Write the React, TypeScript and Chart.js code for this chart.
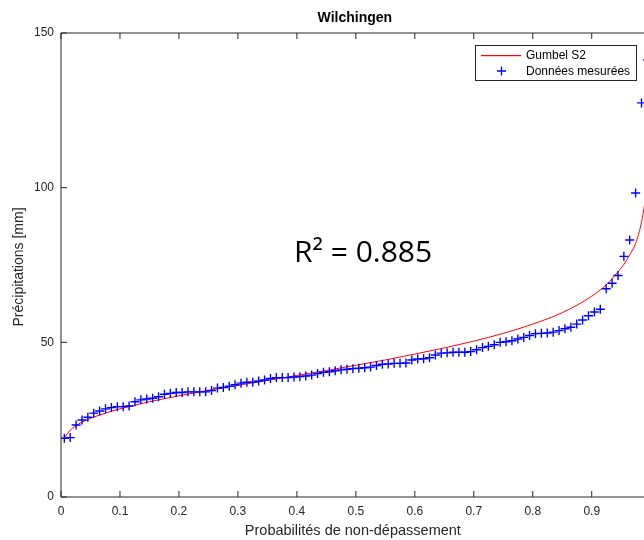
import React, { useEffect, useRef } from 'react';
import { Chart, registerables } from 'chart.js';

Chart.register(...registerables);

const TITLE = 'Wilchingen';
const X_LABEL = 'Probabilités de non-dépassement';
const Y_LABEL = 'Précipitations [mm]';
const FIT_LABEL = 'Gumbel S2';
const DATA_LABEL = 'Données mesurées';
const R2_TEXT = 'R² = 0.885';

const X_TICKS = [0, 0.1, 0.2, 0.3, 0.4, 0.5, 0.6, 0.7, 0.8, 0.9, 1];
const Y_TICKS = [0, 50, 100, 150];

// plotting positions (non-exceedance probability) of the measured values
const probs = [
  0.0056, 0.0156, 0.0256, 0.0356, 0.0455, 0.0555, 0.0655, 0.0755, 0.0855, 0.0955,
  0.1055, 0.1155, 0.1255, 0.1354, 0.1454, 0.1554, 0.1654, 0.1754, 0.1854, 0.1954,
  0.2054, 0.2153, 0.2253, 0.2353, 0.2453, 0.2553, 0.2653, 0.2753, 0.2853, 0.2952,
  0.3052, 0.3152, 0.3252, 0.3352, 0.3452, 0.3552, 0.3652, 0.3752, 0.3851, 0.3951,
  0.4051, 0.4151, 0.4251, 0.4351, 0.4451, 0.4551, 0.4650, 0.4750, 0.4850, 0.4950,
  0.5050, 0.5150, 0.5250, 0.5350, 0.5449, 0.5549, 0.5649, 0.5749, 0.5849, 0.5949,
  0.6049, 0.6149, 0.6249, 0.6348, 0.6448, 0.6548, 0.6648, 0.6748, 0.6848, 0.6948,
  0.7048, 0.7147, 0.7247, 0.7347, 0.7447, 0.7547, 0.7647, 0.7747, 0.7847, 0.7946,
  0.8046, 0.8146, 0.8246, 0.8346, 0.8446, 0.8546, 0.8646, 0.8746, 0.8845, 0.8945,
  0.9045, 0.9145, 0.9245, 0.9345, 0.9445, 0.9545, 0.9644, 0.9744, 0.9844, 0.9944,
];

// measured precipitation [mm]
const measured = [
  19.0, 19.2, 23.3, 24.9, 25.8, 27.1, 27.8, 28.5, 28.9, 29.2,
  29.2, 29.4, 30.8, 31.4, 31.7, 31.9, 32.4, 33.2, 33.5, 33.8,
  33.8, 34.0, 34.0, 34.0, 34.0, 34.4, 35.2, 35.4, 35.8, 36.3,
  36.8, 37.1, 37.1, 37.5, 37.8, 38.3, 38.6, 38.6, 38.6, 38.8,
  38.9, 39.1, 39.4, 39.9, 40.3, 40.5, 40.8, 41.1, 41.3, 41.5,
  41.6, 41.8, 42.0, 42.5, 42.9, 43.0, 43.2, 43.2, 43.3, 44.3,
  44.6, 44.7, 45.0, 45.9, 46.5, 46.6, 46.8, 46.8, 46.8, 47.0,
  47.6, 48.3, 48.7, 49.2, 50.0, 50.2, 50.5, 51.1, 51.6, 52.2,
  52.8, 52.9, 53.0, 53.3, 53.8, 54.4, 54.9, 55.9, 57.2, 58.6,
  59.8, 60.7, 67.3, 69.1, 71.6, 77.8, 83.1, 98.3, 127.4, 141.3,
];

// fitted Gumbel curve
const fitProbs = [
  0.0056, 0.0156, 0.03, 0.05, 0.075, 0.1, 0.15, 0.2, 0.25, 0.3, 0.35, 0.4, 0.45, 0.5,
  0.55, 0.6, 0.65, 0.7, 0.75, 0.8, 0.85, 0.9, 0.9245, 0.9445, 0.9545, 0.9644, 0.9744,
  0.9844, 0.9944,
];
const fitValues = [
  19.0, 21.6, 23.6, 25.4, 27.1, 28.5, 30.8, 32.7, 34.5, 36.1, 37.7, 39.3, 40.9, 42.6,
  44.3, 46.2, 48.2, 50.4, 52.9, 55.9, 59.6, 64.9, 68.6, 72.8, 75.2, 78.3, 82.0,
  88.8, 100.5,
];

const CANVAS_W = 700;
const CANVAS_H = 540;
const AXIS_COLOR = '#262626';
const SANS = '"Liberation Sans", Arial, Helvetica, sans-serif';

const decorPlugin = {
  id: 'decor',
  afterDraw(chart: any) {
    const ctx = chart.ctx as CanvasRenderingContext2D;
    const { left, right, top, bottom } = chart.chartArea;
    const xs = chart.scales.x;
    const ys = chart.scales.y;
    ctx.save();
    // box
    ctx.strokeStyle = AXIS_COLOR;
    ctx.lineWidth = 1;
    ctx.beginPath();
    ctx.rect(left, top, right - left, bottom - top);
    ctx.stroke();
    // ticks
    const tl = 6;
    ctx.beginPath();
    X_TICKS.forEach((v) => {
      const px = xs.getPixelForValue(v);
      ctx.moveTo(px, bottom);
      ctx.lineTo(px, bottom - tl);
      ctx.moveTo(px, top);
      ctx.lineTo(px, top + tl);
    });
    Y_TICKS.forEach((v) => {
      const py = ys.getPixelForValue(v);
      ctx.moveTo(left, py);
      ctx.lineTo(left + tl, py);
      ctx.moveTo(right, py);
      ctx.lineTo(right - tl, py);
    });
    ctx.stroke();

    // title
    const cx = (left + right) / 2;
    ctx.fillStyle = '#000';
    ctx.font = `bold 14px ${SANS}`;
    ctx.textAlign = 'center';
    ctx.textBaseline = 'middle';
    ctx.fillText(TITLE, cx - 1, 18);

    // axis labels
    ctx.fillStyle = AXIS_COLOR;
    ctx.font = `14.5px ${SANS}`;
    ctx.fillText(X_LABEL, cx - 3, 531);
    ctx.save();
    ctx.font = `14px ${SANS}`;
    ctx.translate(19, (top + bottom) / 2 + 2);
    ctx.rotate(-Math.PI / 2);
    ctx.fillText(Y_LABEL, 0, 0);
    ctx.restore();

    // R² annotation
    ctx.fillStyle = '#000';
    ctx.font = `30px "Open Sans", sans-serif`;
    ctx.textAlign = 'left';
    ctx.textBaseline = 'alphabetic';
    ctx.fillText(R2_TEXT, 294, 262);

    // legend
    const lx = 475.5, ly = 45.5, lw = 161, lh = 35;
    ctx.fillStyle = '#fff';
    ctx.fillRect(lx, ly, lw, lh);
    ctx.strokeStyle = AXIS_COLOR;
    ctx.lineWidth = 1;
    ctx.strokeRect(lx, ly, lw, lh);
    ctx.fillStyle = '#ff0000';
    ctx.fillRect(481, 55, 40, 1.2);
    ctx.strokeStyle = '#0000ff';
    ctx.lineWidth = 1.3;
    ctx.beginPath();
    ctx.moveTo(497, 71);
    ctx.lineTo(506, 71);
    ctx.moveTo(501.5, 66.5);
    ctx.lineTo(501.5, 75.5);
    ctx.stroke();
    ctx.fillStyle = '#000';
    ctx.font = `12px ${SANS}`;
    ctx.textBaseline = 'middle';
    ctx.fillText(FIT_LABEL, 526, 55.5);
    ctx.fillText(DATA_LABEL, 526, 71.5);
    ctx.restore();
  },
};

export default function App() {
  const ref = useRef<HTMLCanvasElement>(null);
  useEffect(() => {
    const canvas = ref.current!;
    const chart = new Chart(canvas, {
      type: 'scatter',
      data: {
        datasets: [
          {
            label: FIT_LABEL,
            type: 'line',
            data: fitProbs.map((x, i) => ({ x, y: fitValues[i] })),
            borderColor: '#ff0000',
            borderWidth: 1,
            pointRadius: 0,
            fill: false,
            cubicInterpolationMode: 'monotone',
            order: 1,
          } as any,
          {
            label: DATA_LABEL,
            data: probs.map((x, i) => ({ x, y: measured[i] })),
            pointStyle: 'cross',
            pointRadius: 4.5,
            borderColor: '#0000ff',
            backgroundColor: '#0000ff',
            pointBorderWidth: 1.4,
            showLine: false,
            order: 0,
          } as any,
        ],
      },
      options: {
        animation: false,
        responsive: false,
        devicePixelRatio: 1,
        layout: { padding: { top: 33, right: CANVAS_W - 650.7, left: 0, bottom: 0 } },
        plugins: {
          legend: { display: false },
          title: { display: false },
          tooltip: { enabled: false },
        },
        scales: {
          x: {
            type: 'linear',
            min: 0,
            max: 1,
            afterBuildTicks: (s: any) => {
              s.ticks = X_TICKS.map((v) => ({ value: v }));
            },
            afterFit: (s: any) => {
              s.height = 43;
            },
            ticks: {
              callback: (v: any) => String(Math.round(Number(v) * 10) / 10),
              font: { family: SANS, size: 12 },
              color: AXIS_COLOR,
              padding: 7,
              maxRotation: 0,
              autoSkip: false,
            },
            grid: { display: false, drawTicks: false },
            border: { display: false },
          },
          y: {
            type: 'linear',
            min: 0,
            max: 150,
            afterBuildTicks: (s: any) => {
              s.ticks = Y_TICKS.map((v) => ({ value: v }));
            },
            afterFit: (s: any) => {
              s.width = 61;
            },
            ticks: {
              font: { family: SANS, size: 12 },
              color: AXIS_COLOR,
              padding: 7,
              autoSkip: false,
            },
            grid: { display: false, drawTicks: false },
            border: { display: false },
          },
        },
      } as any,
      plugins: [decorPlugin],
    });
    return () => chart.destroy();
  }, []);

  return (
    <div
      style={{
        position: 'fixed',
        left: 0,
        top: 0,
        width: 644,
        height: 540,
        overflow: 'hidden',
        background: '#fff',
      }}
    >
      <canvas
        ref={ref}
        width={CANVAS_W}
        height={CANVAS_H}
        style={{ width: CANVAS_W, height: CANVAS_H, display: 'block' }}
      />
    </div>
  );
}
